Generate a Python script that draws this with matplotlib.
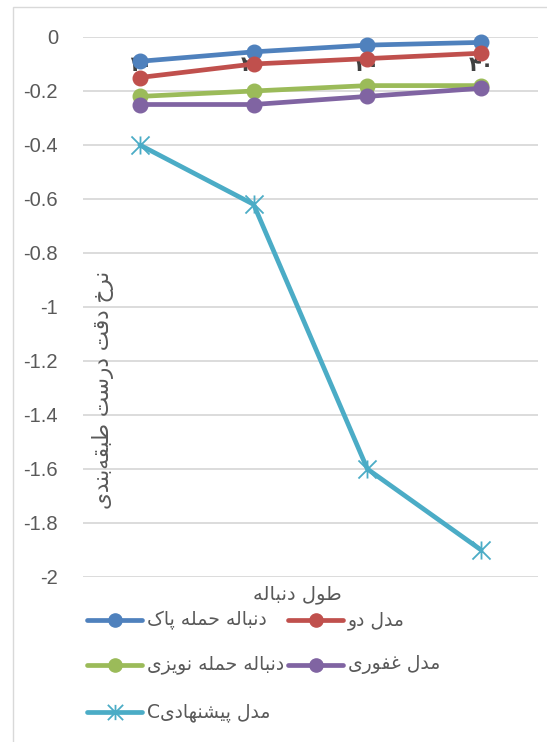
import matplotlib
matplotlib.use("Agg")
import matplotlib.pyplot as plt
from matplotlib.lines import Line2D
from matplotlib.patches import Rectangle
from matplotlib.path import Path

# ---------------- data ----------------
categories = ["۱۰", "۲۰", "۳۰", "۴۰"]
series_names = ["دنباله حمله پاک", "مدل دو", "دنباله حمله نویزی", "مدل غفوری", "مدل پیشنهادی"]
clean_attack = [-0.09, -0.055, -0.03, -0.02]
model_two = [-0.15, -0.10, -0.08, -0.06]
noisy_attack = [-0.22, -0.20, -0.18, -0.18]
ghafouri = [-0.25, -0.25, -0.22, -0.19]
proposed = [-0.40, -0.62, -1.60, -1.90]
y_ticks = [0, -0.2, -0.4, -0.6, -0.8, -1, -1.2, -1.4, -1.6, -1.8, -2]
y_title = "نرخ دقت درست طبقه‌بندی"
x_title = "طول دنباله"

colors = ["#4F81BD", "#C0504D", "#9BBB59", "#8064A2", "#4BACC6"]

# ---------------- minimal Arabic/Persian shaping ----------------
FORMS = {
    '\u0627': ('\uFE8D', '\uFE8E', None, None),
    '\u0628': ('\uFE8F', '\uFE90', '\uFE91', '\uFE92'),
    '\u067E': ('\uFB56', '\uFB57', '\uFB58', '\uFB59'),
    '\u062A': ('\uFE95', '\uFE96', '\uFE97', '\uFE98'),
    '\u062D': ('\uFEA1', '\uFEA2', '\uFEA3', '\uFEA4'),
    '\u062E': ('\uFEA5', '\uFEA6', '\uFEA7', '\uFEA8'),
    '\u062F': ('\uFEA9', '\uFEAA', None, None),
    '\u0631': ('\uFEAD', '\uFEAE', None, None),
    '\u0632': ('\uFEAF', '\uFEB0', None, None),
    '\u0633': ('\uFEB1', '\uFEB2', '\uFEB3', '\uFEB4'),
    '\u0634': ('\uFEB5', '\uFEB6', '\uFEB7', '\uFEB8'),
    '\u0637': ('\uFEC1', '\uFEC2', '\uFEC3', '\uFEC4'),
    '\u063A': ('\uFECD', '\uFECE', '\uFECF', '\uFED0'),
    '\u0641': ('\uFED1', '\uFED2', '\uFED3', '\uFED4'),
    '\u0642': ('\uFED5', '\uFED6', '\uFED7', '\uFED8'),
    '\u06A9': ('\uFB8E', '\uFB8F', '\uFB90', '\uFB91'),
    '\u0644': ('\uFEDD', '\uFEDE', '\uFEDF', '\uFEE0'),
    '\u0645': ('\uFEE1', '\uFEE2', '\uFEE3', '\uFEE4'),
    '\u0646': ('\uFEE5', '\uFEE6', '\uFEE7', '\uFEE8'),
    '\u0647': ('\uFEE9', '\uFEEA', '\uFEEB', '\uFEEC'),
    '\u0648': ('\uFEED', '\uFEEE', None, None),
    '\u06CC': ('\uFBFC', '\uFBFD', '\uFBFE', '\uFBFF'),
}


def shape(text):
    out = []
    n = len(text)
    for i, ch in enumerate(text):
        if ch not in FORMS:
            if ch != '\u200c':
                out.append(ch)
            continue
        prev = text[i - 1] if i > 0 else ''
        nxt = text[i + 1] if i < n - 1 else ''
        jp = prev in FORMS and FORMS[prev][2] is not None
        jn = nxt in FORMS and FORMS[ch][2] is not None
        iso, fin, ini, med = FORMS[ch]
        if jp and jn:
            out.append(med)
        elif jp:
            out.append(fin)
        elif jn:
            out.append(ini)
        else:
            out.append(iso)
    return ''.join(reversed(out))


AR_FONT = ["DejaVu Sans"]
LAT_FONT = ["Liberation Sans", "DejaVu Sans"]
TXT = "#595959"

W, H = 547, 742
fig = plt.figure(figsize=(W / 100, H / 100), dpi=100)
fig.patch.set_facecolor("white")

# chart border
fig.patches.append(Rectangle((13 / W, -0.2), 2, 1.2 - 7 / H, transform=fig.transFigure,
                             fill=False, edgecolor="#D9D9D9", lw=1.0, zorder=0))

left, right, top, bottom = 83, 538, 37, 577
ax = fig.add_axes([left / W, 1 - bottom / H, (right - left) / W, (bottom - top) / H])
ax.set_facecolor("none")
for s in ax.spines.values():
    s.set_visible(False)

x = list(range(len(categories)))
ax.set_xlim(-0.5, len(categories) - 0.5)
ax.set_ylim(-2, 0)
ax.set_yticks(y_ticks)
ax.set_yticklabels(["0" if v == 0 else ("%g" % v) for v in y_ticks],
                   fontfamily=LAT_FONT, fontsize=14.5, color=TXT)
ax.tick_params(axis="y", length=0, pad=18)
ax.set_xticks([])
ax.grid(axis="y", color="#D9D9D9", lw=1.3, zorder=0)
ax.set_axisbelow(True)

# category labels (sit just below the zero line, behind the series)
for xi, lab in zip(x, categories):
    ax.text(xi, -0.105, lab, ha="center", va="center", fontsize=15, fontweight="bold",
            color="#404040", fontfamily=AR_FONT, zorder=1)

star = Path([(0, -1), (0, 1), (-1, -1), (1, 1), (-1, 1), (1, -1)],
            [Path.MOVETO, Path.LINETO, Path.MOVETO, Path.LINETO, Path.MOVETO, Path.LINETO])

LW = 3.4
data = [clean_attack, model_two, noisy_attack, ghafouri, proposed]
for i, (vals, c) in enumerate(zip(data, colors)):
    if i < 4:
        ax.plot(x, vals, color=c, lw=LW, marker="o", ms=10.5, mfc=c, mec=c,
                zorder=3, clip_on=False, solid_capstyle="round")
    else:
        ax.plot(x, vals, color=c, lw=LW, marker=star, ms=13, mec=c, mew=1.3,
                zorder=3, clip_on=False, solid_capstyle="round")

# axis titles
fig.text(103 / W, 1 - 390 / H, shape(y_title), rotation=90, ha="center", va="center",
         fontsize=15.5, color=TXT, fontfamily=AR_FONT)
fig.text(297 / W, 1 - 595 / H, shape(x_title), ha="center", va="center",
         fontsize=14, color=TXT, fontfamily=AR_FONT)

# legend (manual, Excel style)
legend_pos = [(87, 620), (288, 620), (87, 665), (288, 665), (87, 712)]
for i, ((lx, ly), c, name) in enumerate(zip(legend_pos, colors, series_names)):
    fy = 1 - ly / H
    xs = [lx / W, (lx + 55) / W]
    fig.add_artist(Line2D(xs, [fy, fy], transform=fig.transFigure, color=c, lw=LW,
                          solid_capstyle="round"))
    if i < 4:
        fig.add_artist(Line2D([(lx + 27.5) / W], [fy], transform=fig.transFigure,
                              color=c, marker="o", ms=9.5, mfc=c, mec=c, ls="none"))
        label = shape(name)
    else:
        fig.add_artist(Line2D([(lx + 27.5) / W], [fy], transform=fig.transFigure,
                              color=c, marker=star, ms=11, mec=c, mew=1.3, ls="none"))
        label = "C" + shape(name)
    fig.text((lx + 60) / W, fy, label, ha="left", va="center", fontsize=13.5,
             color=TXT, fontfamily=AR_FONT)

fig.savefig("out.png", dpi=100, facecolor="white")
